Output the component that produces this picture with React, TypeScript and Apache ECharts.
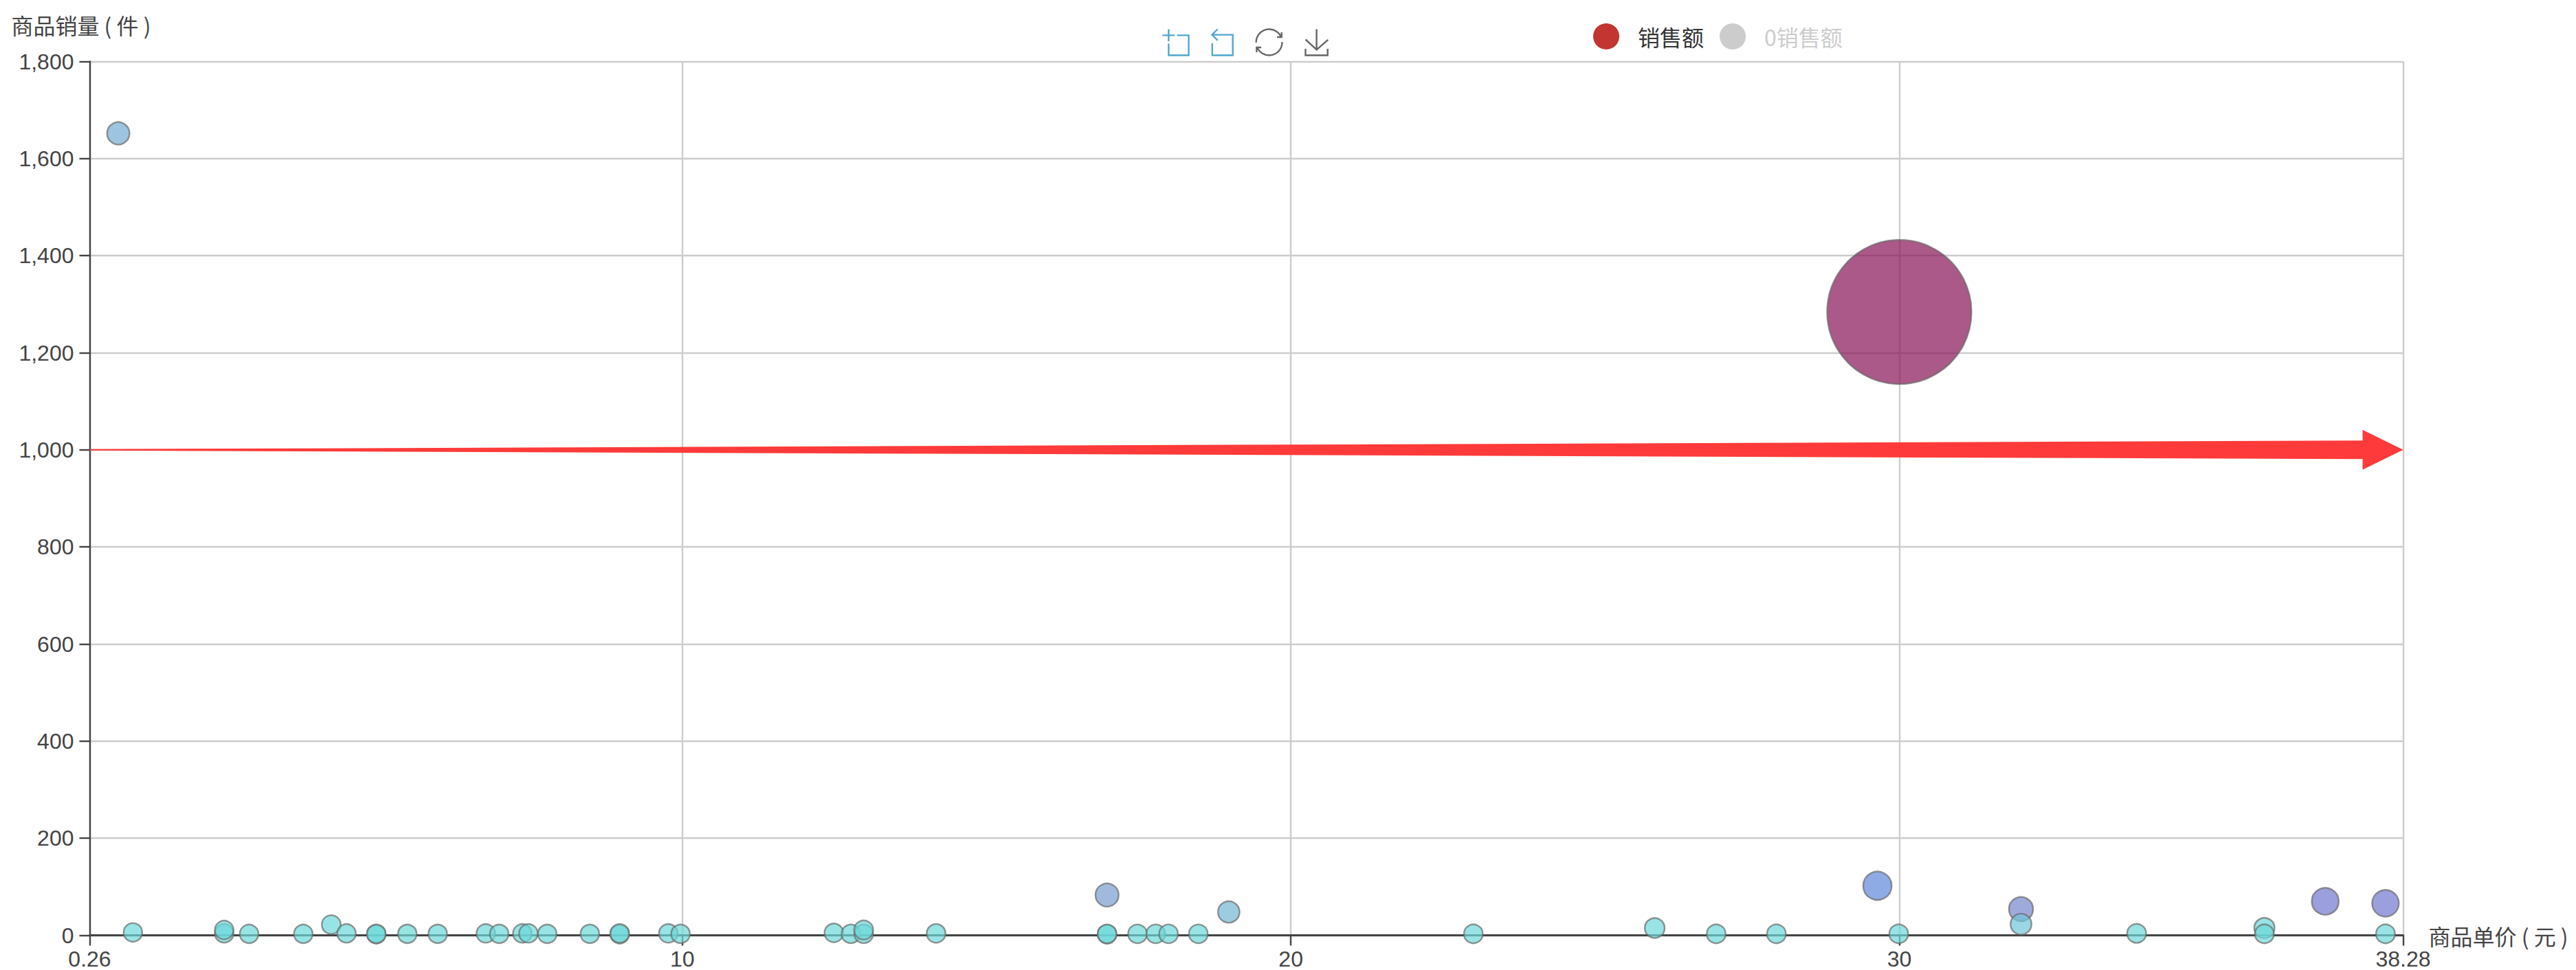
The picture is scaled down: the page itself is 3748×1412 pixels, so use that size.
import React, { useEffect, useRef } from "react";
import * as echarts from "echarts";

const yAxisName = "商品销量 ( 件 )";
const xAxisName = "商品单价 ( 元 )";
const legendNames = ["销售额", "0销售额"];

const prices = [
  0.73, 0.97, 2.47, 2.47, 2.88, 3.77, 4.23, 4.48, 4.97, 4.97, 5.48, 5.98, 6.77, 6.99, 7.37, 7.47, 7.78, 8.48,
  8.97, 8.97, 9.77, 9.97, 12.49, 12.77, 12.98, 12.98, 14.17, 16.98, 16.98, 16.98, 17.48, 17.78, 17.99, 18.48,
  18.98, 23.0, 25.98, 26.99, 27.98, 29.64, 29.99, 30.0, 32.0, 32.0, 33.9, 36.0, 36.0, 37.0, 37.99, 37.99,
];
const volumes = [
  1652, 6, 4, 11, 3, 3, 22, 4, 2, 3, 3, 3, 4, 3, 4, 4, 3, 3,
  2, 4, 4, 3, 5, 3, 3, 11, 4, 83, 2, 3, 3, 3, 3, 3,
  48, 3, 15, 3, 3, 102, 3, 1284, 54, 23, 4, 15, 3, 70, 66, 3,
];
const sales = [
  1198, 6, 10, 27, 9, 11, 93, 18, 10, 15, 16, 18, 27, 21, 29, 30, 23, 25,
  18, 36, 39, 30, 62, 38, 39, 143, 57, 1411, 34, 51, 52, 53, 54, 55,
  912, 69, 390, 81, 84, 3023, 90, 38520, 1728, 736, 132, 540, 108, 2575, 2508, 114,
];
const arrowLine = [[0.26, 1000, 38.28, 1000]];

const points = prices.map((p, i) => [p, volumes[i], sales[i]]);

export default function App() {
  const ref = useRef<HTMLDivElement>(null);
  useEffect(() => {
    const chart = echarts.init(ref.current!, null, { renderer: "svg" });
    const labelFont = { fontFamily: "Liberation Sans, Noto Sans CJK SC", fontSize: 32, color: "#444" };
    const cjkFont = { fontFamily: "Noto Sans CJK SC", fontSize: 32, color: "#444" };
    chart.setOption({
      animation: false,
      backgroundColor: "#fff",
      grid: { left: 130.5, top: 89.5, width: 3366, height: 1272, containLabel: false, outerBoundsMode: "none" },
      toolbox: {
        show: true,
        left: 1674,
        top: 25,
        itemSize: 38,
        itemGap: 29,
        showTitle: false,
        iconStyle: { borderColor: "#666", borderWidth: 2.4 },
        feature: {
          dataZoom: { iconStyle: { borderColor: "#4fa6cf", borderWidth: 2.4 } },
          restore: {},
          saveAsImage: {},
        },
      },
      legend: {
        left: 2313,
        top: 29,
        itemWidth: 82,
        itemHeight: 38,
        itemGap: 23,
        icon: "circle",
        data: legendNames,
        selected: { [legendNames[1]]: false },
        itemStyle: { opacity: 1, borderWidth: 0 },
        textStyle: { fontFamily: "Noto Sans CJK SC", fontSize: 32, color: "#333" },
        inactiveColor: "#ccc",
      },
      xAxis: {
        type: "value",
        min: 0.26,
        max: 38.28,
        name: xAxisName,
        nameLocation: "end",
        nameGap: 37,
        nameTextStyle: cjkFont,
        axisLine: { onZero: false, lineStyle: { color: "#444", width: 3 } },
        axisTick: { show: true, length: 15, lineStyle: { color: "#444", width: 2.4 } },
        axisLabel: { ...labelFont, margin: 18, showMinLabel: true, showMaxLabel: true },
        splitLine: { show: true, lineStyle: { color: "#ccc", width: 2.4 } },
      },
      yAxis: {
        type: "value",
        min: 0,
        max: 1800,
        interval: 200,
        name: yAxisName,
        nameLocation: "end",
        nameGap: 38,
        nameTextStyle: { ...cjkFont, padding: [0, 25, 0, 0] },
        axisLine: { show: true, onZero: false, lineStyle: { color: "#444", width: 2.4 } },
        axisTick: { show: true, length: 15, lineStyle: { color: "#444", width: 2.4 } },
        axisLabel: { ...labelFont, margin: 23 },
        splitLine: { show: true, lineStyle: { color: "#ccc", width: 2.4 } },
      },
      visualMap: [
        {
          type: "continuous",
          show: false,
          seriesIndex: 0,
          dimension: 2,
          min: 0,
          max: 38520,
          inRange: { symbolSize: [27, 210] },
        },
        {
          type: "piecewise",
          show: false,
          seriesIndex: 0,
          dimension: 2,
          pieces: [
            { lt: 700, color: "#6cd8d8" },
            { gte: 700, lt: 850, color: "#70c5d8" },
            { gte: 850, lt: 1000, color: "#73b7d3" },
            { gte: 1000, lt: 1300, color: "#73abd3" },
            { gte: 1300, lt: 1550, color: "#779dd0" },
            { gte: 1550, lt: 2200, color: "#7686cd" },
            { gte: 2200, lt: 2800, color: "#7276cf" },
            { gte: 2800, lt: 5000, color: "#5f87dc" },
            { gte: 5000, color: "#881355" },
          ],
        },
      ],
      series: [
        {
          name: legendNames[0],
          type: "scatter",
          data: points,
          clip: false,
          itemStyle: { color: "#c23531", opacity: 0.7, borderColor: "#6a6a6a", borderWidth: 2.4 },
          z: 3,
        },
        {
          name: legendNames[1],
          type: "scatter",
          data: [],
          itemStyle: { color: "#91c7ae" },
        },
        {
          type: "custom",
          name: "arrow",
          silent: true,
          clip: false,
          z: 4,
          data: arrowLine,
          encode: { x: [0, 2], y: [1, 3] },
          renderItem: (_: any, api: any) => {
            const a = api.coord([api.value(0), api.value(1)]);
            const b = api.coord([api.value(2), api.value(3)]);
            const headStart = b[0] - 59;
            return {
              type: "polygon",
              shape: {
                points: [
                  [a[0], a[1] - 1],
                  [headStart, b[1] - 13.5],
                  [headStart, b[1] - 29],
                  [b[0], b[1]],
                  [headStart, b[1] + 29],
                  [headStart, b[1] + 13.5],
                  [a[0], a[1] + 1],
                ],
              },
              style: { fill: "#ff3a3a" },
            };
          },
        },
      ],
    });
    return () => chart.dispose();
  }, []);
  return <div ref={ref} style={{ position: "absolute", left: 0, top: 0, width: 3748, height: 1412 }} />;
}
